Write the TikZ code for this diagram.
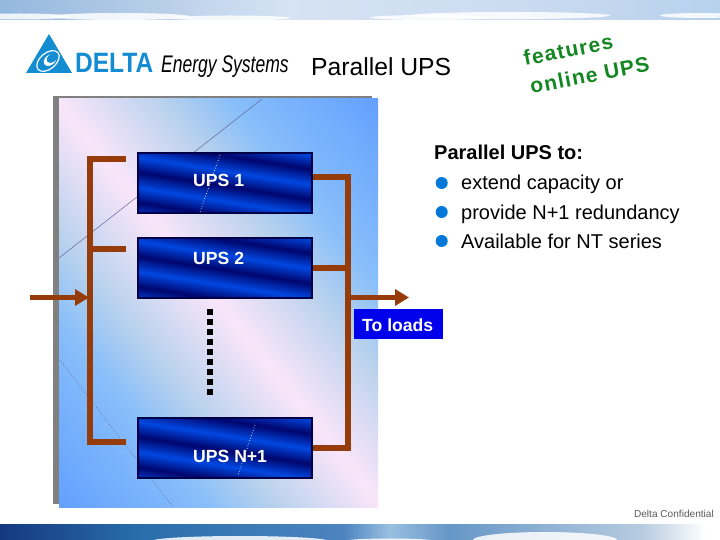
\documentclass[tikz,border=0pt]{standalone}
\usepackage{fontspec}
\setmainfont{Liberation Sans}
\newfontfamily\spacedfont[LetterSpace=6]{Liberation Sans}
\usetikzlibrary{arrows.meta}
\definecolor{busc}{RGB}{150,60,10}
\definecolor{navy}{RGB}{0,0,70}
\definecolor{logoc}{RGB}{20,140,210}
\definecolor{bulletc}{RGB}{0,120,215}
\definecolor{greent}{RGB}{20,135,35}
\definecolor{loadc}{RGB}{0,0,235}
\definecolor{shadowc}{RGB}{128,128,128}
\definecolor{confc}{RGB}{90,90,90}
\pgfdeclareverticalshading{panelshade}{100bp}{
 rgb(0bp)=(0.39,0.63,1); rgb(29bp)=(0.39,0.63,1);
 rgb(38.5bp)=(0.53,0.745,0.98); rgb(43bp)=(0.72,0.82,0.93);
 rgb(50bp)=(0.98,0.90,0.98);
 rgb(57bp)=(0.72,0.82,0.93); rgb(61.5bp)=(0.53,0.745,0.98);
 rgb(71bp)=(0.39,0.63,1); rgb(100bp)=(0.39,0.63,1)}
\pgfdeclareverticalshading{bandshade}{100bp}{
 rgb(0bp)=(0,0.02,0.43); rgb(34.4bp)=(0,0.02,0.43);
 rgb(38.1bp)=(0,0.28,0.88); rgb(41.9bp)=(0,0.02,0.43);
 rgb(45.6bp)=(0,0.28,0.88); rgb(49.4bp)=(0,0.02,0.43);
 rgb(53.1bp)=(0,0.28,0.88); rgb(56.9bp)=(0,0.02,0.43);
 rgb(60.6bp)=(0,0.28,0.88); rgb(64.4bp)=(0,0.02,0.43);
 rgb(100bp)=(0,0.02,0.43)}
\pgfdeclarehorizontalshading{topsky}{100bp}{
 rgb(0bp)=(0.58,0.72,0.87); rgb(25bp)=(0.58,0.72,0.87);
 rgb(36bp)=(0.72,0.81,0.91);
 rgb(45bp)=(0.84,0.89,0.96); rgb(60bp)=(0.80,0.86,0.94);
 rgb(75bp)=(0.72,0.82,0.93); rgb(100bp)=(0.72,0.82,0.93)}
\pgfdeclarehorizontalshading{botsky}{100bp}{
 rgb(0bp)=(0.08,0.22,0.50); rgb(25bp)=(0.08,0.22,0.50);
 rgb(34.6bp)=(0.16,0.43,0.67); rgb(48.9bp)=(0.30,0.52,0.75);
 rgb(52bp)=(0.60,0.75,0.88); rgb(56.2bp)=(0.40,0.59,0.78);
 rgb(69.6bp)=(0.72,0.80,0.88); rgb(74bp)=(1,1,1); rgb(100bp)=(1,1,1)}
\tikzset{
 bus/.style={draw=busc,line width=5.4pt,line join=miter},
 busarrow/.style={draw=busc,line width=5.4pt,-{Triangle[width=16pt,length=14pt]}},
 upsframe/.style={draw=navy,line width=2pt,minimum width=174pt,minimum height=60pt,inner sep=0pt},
 upstext/.style={text=white,font=\fontsize{17.6}{20}\selectfont\bfseries,anchor=base west,inner sep=0pt},
 bodytext/.style={text=black,font=\fontsize{20}{24}\selectfont,anchor=base west,inner sep=0pt},
 dot/.style={circle,fill=bulletc,minimum size=12pt,inner sep=0pt},
 featuretext/.style={text=greent,font=\fontsize{21}{24}\selectfont\spacedfont\bfseries,anchor=base west,inner sep=0pt,rotate=11},
 cloud/.style={fill=white,draw=none,opacity=0.85},
 thinline/.style={draw=gray!80!blue,line width=0.5pt},
 thindots/.style={draw=gray!80!blue,line width=0.7pt,dotted},
 whitedots/.style={draw=white,line width=0.7pt,dotted}
}
\newcommand{\upsbox}[3]{%
 \begin{scope}
  \clip (#2-87,#3-30) rectangle (#2+87,#3+30);
  \shade[shading=bandshade,shading angle=-9] (#2-100,#3-100) rectangle (#2+100,#3+100);
 \end{scope}
 \node[upsframe] (#1) at (#2,#3) {};
}
\begin{document}
\begin{tikzpicture}[x=1pt,y=-1pt]
\useasboundingbox (0,0) rectangle (720,540);
\fill[white] (0,0) rectangle (720,540);
% top sky strip
\shade[shading=topsky] (0,0) rectangle (720,19.5);
\begin{scope}
 \clip (0,0) rectangle (720,19.5);
 \fill[cloud] (20,16.5) ellipse (50 and 3);
 \fill[cloud] (120,16.5) ellipse (70 and 3.5);
 \fill[cloud] (230,18) ellipse (60 and 2.5);
 \fill[cloud] (430,17.5) ellipse (60 and 2.5);
 \fill[cloud] (510,15.5) ellipse (100 and 3.5);
 \fill[cloud] (700,15.5) ellipse (40 and 2.5);
\end{scope}
% bottom sky strip
\shade[shading=botsky] (0,524) rectangle (720,540);
\begin{scope}
 \clip (0,524) rectangle (720,540);
 \fill[cloud] (240,541) ellipse (88 and 5);
 \fill[cloud] (545,540) ellipse (72 and 8);
 \fill[cloud] (390,541) ellipse (45 and 2.5);
\end{scope}
% logo
\fill[logoc] (49,34) -- (72,73) -- (26,73) -- cycle;
\draw[white,line width=1.2pt,rotate around={40:(48,61)}] (48,61) ellipse (13 and 8);
\fill[white,rotate around={40:(50,60)}] (50,60) ellipse (7 and 5);
\fill[logoc,rotate around={40:(52,58)}] (52,58) ellipse (6 and 4);
\node[text=logoc,anchor=base west,inner sep=0pt,font=\fontsize{28}{30}\selectfont\bfseries,xscale=0.875] (delta) at (75,73) {DELTA};
\node[text=black,anchor=base west,inner sep=0pt,font=\fontsize{24}{26}\selectfont\itshape,xscale=0.73] (energy) at (161,73) {Energy Systems};
\node[text=black,anchor=base west,inner sep=0pt,font=\fontsize{24.7}{28}\selectfont] (title) at (311,76) {Parallel UPS};
\node[featuretext] (feat1) at (525,66) {features};
\node[featuretext] (feat2) at (531.5,94) {online UPS};
% panel
\fill[shadowc] (53,96) rectangle (372,504);
\begin{scope}
 \clip (59,99) rectangle (378,507);
 \shade[shading=panelshade,shading angle=-51.3] (-81.5,3) rectangle (518.5,603);
 \draw[thinline] (262,99) -- (59,258);
 \draw[thindots] (60,360) -- (173,507);
\end{scope}
% UPS boxes
\upsbox{ups1}{225}{183.5}
\upsbox{ups2}{225}{267.5}
\upsbox{upsn}{225}{448}
\draw[whitedots] (220,155) -- (200,212);
\draw[whitedots] (255,425) -- (238,475);
\node[upstext] (t1) at (193,186.5) {UPS 1};
\node[upstext] (t2) at (193,264) {UPS 2};
\node[upstext] (tn) at (193,462) {UPS N+1};
% ellipsis squares
\draw[black,line width=6pt,dash pattern=on 6pt off 4pt] (210,309) -- (210,395);
% left bus
\coordinate (l1) at (90,159);
\coordinate (l1e) at (126,159);
\coordinate (l2) at (90,249);
\coordinate (l2e) at (126,249);
\coordinate (ln) at (90,442);
\coordinate (lne) at (126,442);
\coordinate (inS) at (30,297.5);
\coordinate (inE) at (89,297.5);
\draw[bus] (l1e) -- (l1) -- (ln) -- (lne);
\draw[bus] (l2) -- (l2e);
\draw[busarrow] (inS) -- (inE);
% right bus
\coordinate (r1) at (348,177);
\coordinate (r2) at (348,268);
\coordinate (rn) at (348,448);
\coordinate (outS) at (348,297.5);
\coordinate (outE) at (409,297.5);
\draw[bus] (ups1.east |- r1) -- (r1) -- (rn) -- (upsn.east |- rn);
\draw[bus] (ups2.east |- r2) -- (r2);
\draw[busarrow] (outS) -- (outE);
% To loads
\node[fill=loadc,text=white,minimum width=89pt,minimum height=30pt,inner sep=0pt] (loads) at (398.5,324) {};
\node[upstext] (loadstext) at (362,331) {To loads};
% text block
\node[bodytext,font=\fontsize{20}{24}\selectfont\bfseries] (head) at (434,160) {Parallel UPS to:};
\node[dot] (b1) at (441.7,183) {};
\node[dot] (b2) at (441.7,212) {};
\node[dot] (b3) at (441.7,241) {};
\node[bodytext] (i1) at (461,190) {extend capacity or};
\node[bodytext] (i2) at (461,219) {provide N+1 redundancy};
\node[bodytext] (i3) at (461,248) {Available for NT series};
\node[text=confc,anchor=base east,inner sep=0pt,font=\fontsize{10.1}{12}\selectfont] (conf) at (714,517) {Delta Confidential};
\end{tikzpicture}
\end{document}
